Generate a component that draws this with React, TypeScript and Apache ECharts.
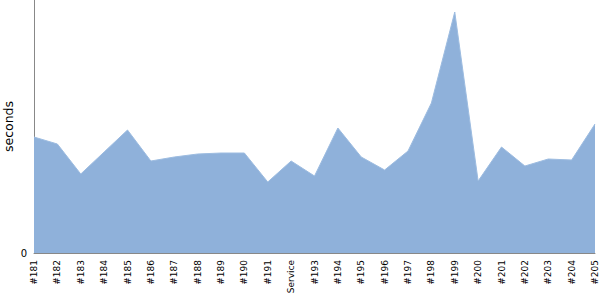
import React, { useEffect, useRef } from "react";
import * as echarts from "echarts";

const categories = ["#181","#182","#183","#184","#185","#186","#187","#188","#189","#190","#191","Service","#193","#194","#195","#196","#197","#198","#199","#200","#201","#202","#203","#204","#205"];
const durations = [116,109,79,101,123,92,96,99,100,100,71,92,77,125,96,83,102,150,241,72,106,87,94,93,129];
const yMax = 253;

export default function App() {
  const ref = useRef<HTMLDivElement>(null);
  useEffect(() => {
    const chart = echarts.init(ref.current!, null, { renderer: "svg" });
    chart.setOption({
      animation: false,
      grid: { left: 34, right: 5, top: 0, bottom: 47, outerBoundsMode: "none", containLabel: false },
      xAxis: {
        type: "category",
        data: categories,
        boundaryGap: false,
        axisLine: { lineStyle: { color: "#888", width: 1 } },
        axisTick: { show: false },
        axisLabel: { rotate: 90, interval: 0, margin: 7, color: "#000", fontSize: 9, fontFamily: "DejaVu Sans" },
      },
      yAxis: {
        type: "value",
        min: 0,
        max: yMax,
        interval: yMax,
        name: "seconds",
        nameLocation: "middle",
        nameRotate: 90,
        nameGap: 19,
        nameMoveOverlap: false,
        nameTextStyle: { color: "#000", fontSize: 12.5, fontFamily: "DejaVu Sans" },
        axisLine: { show: true, lineStyle: { color: "#888", width: 1 } },
        axisTick: { show: false },
        splitLine: { show: false },
        axisLabel: { margin: 7, color: "#000", fontSize: 10, fontFamily: "DejaVu Sans", formatter: (v: number) => (v === 0 ? "0" : "") },
      },
      series: [
        {
          type: "line",
          data: durations,
          symbol: "none",
          lineStyle: { width: 1, color: "#9dbce0" },
          areaStyle: { color: "#8fb1da", opacity: 1 },
        },
      ],
    });
    return () => chart.dispose();
  }, []);
  return <div ref={ref} style={{ width: 600, height: 300, position: "absolute", left: 0, top: 0 }} />;
}
